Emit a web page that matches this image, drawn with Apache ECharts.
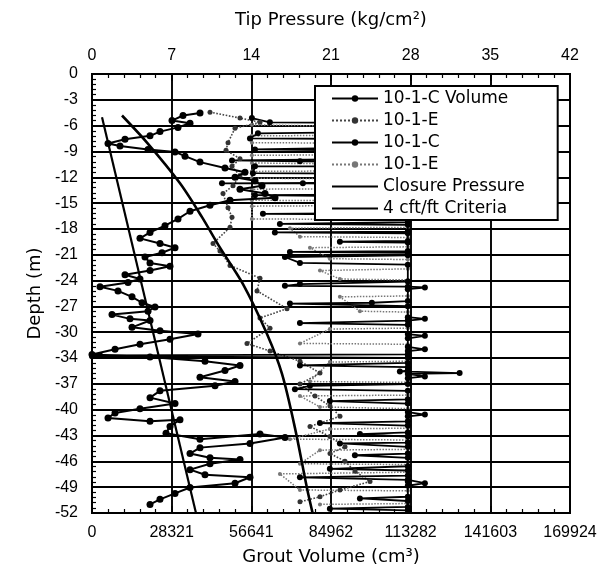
<!DOCTYPE html>
<html><head><meta charset="utf-8">
<script src="https://cdn.jsdelivr.net/npm/echarts@6/dist/echarts.min.js"></script>
<style>html,body{margin:0;padding:0;background:#fff}#c{width:608px;height:576px}</style>
</head><body><div id="c"></div>
<script>
// ---- tick labels ----
const pressureTickLabels = ['0','7','14','21','28','35','42'];
const volumeTickLabels = ['0','28321','56641','84962','113282','141603','169924'];
const depthTickLabels = ['0','-3','-6','-9','-12','-15','-18','-21','-24','-27','-30','-34','-37','-40','-43','-46','-49','-52'];

// ---- series data: [value, depth (m)] ----
const cVolume = [
[38400,-4.6],[32350,-4.9],[28440,-5.5],[34840,-5.8],[30570,-6.3],[24170,-6.8],[20620,-7.3],[11730,-7.7],
[5690,-8.2],[9950,-8.5],[19910,-8.9],[29510,-9.2],[33060,-9.7],[38390,-10.4],[47280,-11.1],[54390,-11.6],
[50840,-12.2],[57950,-12.6],[60440,-13.2],[52610,-13.6],[61500,-14.1],[65060,-14.6],[49060,-14.9],[41950,-15.5],
[34840,-16.2],[30570,-17.1],[25950,-17.9],[20620,-18.7],[17060,-19.4],[24170,-20.0],[29510,-20.5],[24890,-21.1],
[18840,-21.6],[20620,-22.3],[27730,-22.7],[20620,-23.2],[11730,-23.7],[17060,-24.2],[12800,-24.6],[2840,-25.1],
[9240,-25.6],[14220,-26.3],[17780,-27.0],[22400,-27.5],[19910,-28.0],[7110,-28.4],[13510,-28.9],[20620,-29.1],
[14220,-29.9],[24170,-30.3],[37680,-30.7],[27730,-31.3],[17060,-31.9],[8180,-32.5],[0,-33.1],[20620,-33.4],
[40170,-33.9],[52610,-34.4],[47280,-35.0],[38390,-35.8],[50840,-36.3],[43730,-36.8],[24170,-37.4],[20620,-38.2],
[29510,-38.9],[17060,-39.5],[8180,-40.0],[5690,-40.6],[20620,-41.0],[31280,-40.8],[27730,-41.6],[26310,-42.4],
[38390,-43.1],[59720,-42.5],[68610,-42.9],[56170,-43.6],[38390,-44.1],[34840,-44.8],[41950,-45.3],[52610,-45.5],
[41950,-46.0],[34840,-46.7],[40170,-47.3],[56170,-47.6],[50840,-48.3],[34840,-48.8],[29510,-49.5],[24170,-50.2],
[20620,-50.8]
];
const eVolume = [
[41950,-4.5],[52610,-5.2],[59720,-5.7],[50840,-6.4],[48350,-8.1],[47640,-9.0],[52610,-10.0],[49770,-10.9],
[52610,-12.0],[50130,-13.2],[46570,-14.1],[48350,-15.8],[49770,-16.9],[49060,-18.1],[43020,-20.0],[45500,-20.9],
[49060,-22.6],[59720,-24.1],[58660,-25.6],[69320,-27.7],[59720,-28.8],[63280,-30.0],[55100,-31.8],[63280,-32.7],
[73940,-33.9],[81050,-35.3],[73940,-36.6],[79280,-38.0],[84610,-39.2],[88160,-40.4],[77500,-41.6],[84610,-42.8],
[89940,-44.0],[84610,-44.8],[89940,-45.7],[93500,-46.9],[98830,-48.1],[88160,-49.1],[81050,-49.9],[73940,-50.5]
];
const cPressure = [
[14.05,-5.2],[15.63,-5.7],[27.75,-5.8],
[27.75,-6.8],[14.58,-7.0],[13.88,-7.6],[27.75,-7.7],
[27.75,-8.6],[14.32,-8.9],[27.75,-9.1],
[27.75,-10.0],[12.30,-10.2],[18.27,-10.3],[27.75,-10.4],
[27.75,-10.9],[14.32,-10.9],[14.14,-11.7],[27.75,-11.8],
[27.75,-12.8],[11.42,-12.9],[18.53,-12.9],[27.75,-13.0],
[27.75,-14.2],[14.32,-14.3],[27.75,-14.5],
[27.75,-16.4],[15.02,-16.5],[27.75,-16.6],
[27.75,-17.5],[16.51,-17.7],[27.75,-17.8],
[27.75,-18.6],[16.07,-18.7],[27.75,-18.8],
[27.75,-19.7],[21.78,-19.8],[27.75,-19.9],
[27.75,-20.9],[17.39,-21.0],[27.75,-21.1],
[27.75,-21.4],[16.95,-21.6],[18.27,-22.3],[27.75,-22.5],
[27.75,-24.5],[18.27,-24.8],[16.95,-25.0],[27.75,-25.1],[29.25,-25.2],[27.75,-25.4],
[27.75,-26.8],[24.59,-27.0],[17.39,-27.1],[27.75,-27.4],
[27.75,-28.7],[29.25,-28.9],[27.75,-29.1],[18.27,-29.4],[27.75,-29.6],
[27.75,-30.7],[29.25,-30.9],[27.75,-31.2],
[27.75,-32.2],[29.25,-32.5],[27.75,-32.7],
[27.75,-33.1],[0.70,-33.2],[0,-33.3],[27.75,-33.5],
[27.75,-34.1],[18.27,-34.4],[27.75,-34.6],
[27.75,-35.0],[27.05,-35.1],[32.3,-35.3],[27.75,-35.4],[29.25,-35.7],[27.75,-35.9],
[27.75,-36.6],[19.15,-36.8],[17.83,-37.2],[27.75,-37.4],
[27.75,-38.4],[20.90,-38.6],[27.75,-38.9],
[27.75,-39.9],[29.25,-40.2],[27.75,-40.4],
[27.75,-41.0],[20.03,-41.2],[27.75,-41.5],
[27.75,-42.3],[23.54,-42.5],[27.75,-42.8],
[27.75,-43.5],[21.78,-43.6],[27.75,-44.0],
[27.75,-44.8],[23.10,-45.0],[27.75,-45.3],
[27.75,-46.3],[20.90,-46.6],[27.75,-46.8],
[27.75,-47.4],[18.27,-47.6],[27.75,-47.9],
[27.75,-48.1],[29.25,-48.3],[27.75,-48.6],
[27.75,-49.9],[23.54,-50.1],[27.75,-50.4],
[27.75,-51.1],[20.90,-51.3],[27.75,-51.5]
];
const ePressure = [
[14.05,-6.0],[27.75,-6.3],[27.75,-7.2],[14.05,-7.3],[14.05,-8.1],[27.75,-8.2],[27.75,-9.5],[14.05,-9.6],
[14.05,-10.5],[27.75,-10.7],[27.75,-11.4],[14.05,-11.5],[14.05,-12.3],[27.75,-12.4],[27.75,-13.5],[14.05,-13.6],
[14.05,-14.9],[27.75,-15.0],[27.75,-15.5],[14.05,-15.6],[14.05,-17.1],[27.75,-17.2],
[27.75,-18.1],[17.39,-18.2],[18.27,-19.2],[27.75,-19.3],[27.75,-20.4],[19.15,-20.5],[20.90,-21.8],[27.75,-21.9],
[27.75,-23.0],[20.03,-23.2],[21.78,-24.2],[27.75,-24.3],[27.75,-26.2],[21.78,-26.3],[23.54,-28.0],[27.75,-28.1],
[27.75,-30.0],[20.90,-30.1],[18.27,-31.8],[27.75,-31.9],[27.75,-33.9],[20.90,-34.0],[19.15,-36.3],[27.75,-36.4],
[27.75,-37.9],[18.27,-38.0],[20.03,-39.3],[27.75,-39.5],[27.75,-41.8],[20.90,-41.9],[17.39,-43.1],[27.75,-43.2],
[27.75,-44.3],[20.03,-44.4],[18.27,-46.0],[27.75,-46.1],[27.75,-47.0],[16.51,-47.2],[18.27,-49.1],[27.75,-49.2],
[27.75,-50.7],[20.03,-50.8]
];
const closurePressure = [[0.88,-5.1],[9.13,-51.8]];
const criteriaVolume = [
[10665,-4.9],[19550,-8.1],[31285,-12.9],[39105,-16.9],[45505,-20.5],[53680,-24.8],
[62215,-30.7],[67545,-35.4],[72165,-41.8],[76435,-48.9],[78400,-51.8]
];

const seriesNames = ['10-1-C Volume','10-1-E','10-1-C','10-1-E ','Closure Pressure','4 cft/ft Criteria'];

const VOL_MAX = 169924;
const numFont = "'Liberation Sans',Arial,sans-serif";
const textFont = "'DejaVu Sans','Liberation Sans',sans-serif";
const hiddenDot = {color:'rgba(0,0,0,0)',borderColor:'rgba(0,0,0,0)',borderWidth:0};

const chart = echarts.init(document.getElementById('c'), null, {renderer:'canvas'});
const option = {
  animation:false,
  backgroundColor:'#fff',
  grid:{left:92,right:38,top:74,bottom:63,show:true,borderColor:'#000',borderWidth:2},
  legend:{
    data:[
      {name:seriesNames[0]},{name:seriesNames[1]},{name:seriesNames[2]},{name:seriesNames[3]},
      {name:seriesNames[4],itemStyle:hiddenDot},{name:seriesNames[5],itemStyle:hiddenDot}
    ],
    orient:'vertical', left:315, top:86, z:20,
    padding:[4,33,3,16], itemGap:5, itemWidth:46, itemHeight:8,
    backgroundColor:'#fff', borderColor:'#000', borderWidth:2,
    textStyle:{fontFamily:textFont,fontSize:17,color:'#000'}
  },
  xAxis:[
    {type:'value',position:'top',min:0,max:42,interval:7,
     name:'Tip Pressure (kg/cm²)',nameLocation:'middle',nameGap:45,
     nameTextStyle:{fontFamily:textFont,fontSize:18,color:'#000'},
     axisLine:{show:true,lineStyle:{color:'#000',width:2}},
     axisTick:{show:true,inside:true,length:7,lineStyle:{color:'#000',width:1.5}},
     minorTick:{show:true,splitNumber:5,length:4,lineStyle:{color:'#000',width:1.2}},
     axisLabel:{fontFamily:numFont,fontSize:16,color:'#000',margin:10,
       formatter:v=>pressureTickLabels[Math.round(v/7)]},
     splitLine:{show:true,lineStyle:{color:'#000',width:1.9}}},
    {type:'value',position:'bottom',min:0,max:VOL_MAX,interval:VOL_MAX/6,
     name:'Grout Volume (cm³)',nameLocation:'middle',nameGap:35,
     nameTextStyle:{fontFamily:textFont,fontSize:18,color:'#000'},
     axisLine:{show:true,lineStyle:{color:'#000',width:2}},
     axisTick:{show:true,inside:true,length:7,lineStyle:{color:'#000',width:1.5}},
     minorTick:{show:true,splitNumber:5,length:4,lineStyle:{color:'#000',width:1.2}},
     axisLabel:{fontFamily:numFont,fontSize:16,color:'#000',margin:12,
       formatter:v=>volumeTickLabels[Math.round(v/(VOL_MAX/6))]},
     splitLine:{show:false}}
  ],
  yAxis:{type:'value',min:-51.816,max:0,interval:3.048,
     name:'Depth (m)',nameLocation:'middle',nameGap:44,nameRotate:90,
     nameTextStyle:{fontFamily:textFont,fontSize:18,color:'#000'},
     axisLine:{show:true,lineStyle:{color:'#000',width:2}},
     axisTick:{show:true,inside:true,length:7,lineStyle:{color:'#000',width:1.5}},
     minorTick:{show:true,splitNumber:5,length:4,lineStyle:{color:'#000',width:1.2}},
     axisLabel:{fontFamily:numFont,fontSize:16,color:'#000',margin:14,
       formatter:v=>depthTickLabels[Math.round(-v/3.048)]},
     splitLine:{show:true,lineStyle:{color:'#000',width:1.9}}},
  series:[
    {name:seriesNames[0],type:'line',xAxisIndex:1,data:cVolume,symbol:'circle',symbolSize:7,
     lineStyle:{color:'#000',width:2},itemStyle:{color:'#000'},z:5},
    {name:seriesNames[1],type:'line',xAxisIndex:1,data:eVolume,symbol:'circle',symbolSize:5,
     lineStyle:{color:'#444',width:1.6,type:'dotted'},itemStyle:{color:'#333'},z:4},
    {name:seriesNames[2],type:'line',xAxisIndex:0,data:cPressure,symbol:'circle',symbolSize:6,
     lineStyle:{color:'#000',width:1.8},itemStyle:{color:'#000'},z:4},
    {name:seriesNames[3],type:'line',xAxisIndex:0,data:ePressure,symbol:'circle',symbolSize:4,
     lineStyle:{color:'#777',width:1.5,type:'dotted'},itemStyle:{color:'#777'},z:3},
    {name:seriesNames[4],type:'line',xAxisIndex:0,data:closurePressure,symbol:'none',
     lineStyle:{color:'#000',width:2.2},itemStyle:{color:'#000'},z:6},
    {name:seriesNames[5],type:'line',xAxisIndex:1,data:criteriaVolume,symbol:'none',smooth:0.3,
     lineStyle:{color:'#000',width:2.6},itemStyle:{color:'#000'},z:6}
  ]
};
chart.setOption(option);
</script>
</body></html>
